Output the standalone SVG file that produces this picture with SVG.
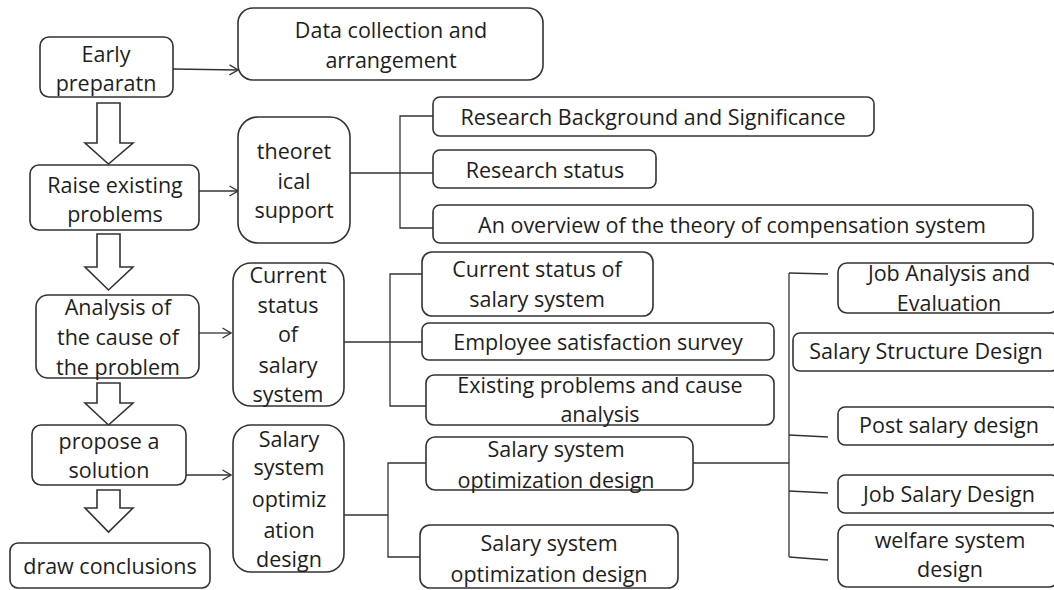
<svg xmlns="http://www.w3.org/2000/svg" width="1054" height="590" viewBox="0 0 1054 590">
  <defs>
    <style>
      .box { fill: #ffffff; stroke: #333333; stroke-width: 1.6; }
      .blk { fill: #ffffff; stroke: #333333; stroke-width: 1.6; stroke-linejoin: miter; }
      .ln { fill: none; stroke: #333333; stroke-width: 1.3; }
      text { font-family: "Open Sans", "Noto Sans", "Liberation Sans", sans-serif; font-size: 21.5px; fill: #1e1e1e; text-anchor: middle; }
    </style>
    <marker id="chev" viewBox="0 0 10 12" refX="9.5" refY="6" markerWidth="10" markerHeight="12" markerUnits="userSpaceOnUse" orient="auto">
      <polyline points="1,1 9.5,6 1,11" fill="none" stroke="#333333" stroke-width="1.3"/>
    </marker>
  </defs>
  <rect width="1054" height="590" fill="#ffffff"/>

  <!-- connectors -->
  <g id="connectors">
    <!-- main flow block arrows -->
    <polygon class="blk" points="97,103 120,103 120,143 133,143 108.5,164 85,143 97,143"/>
    <polygon class="blk" points="97,234 120,234 120,267 133,267 108.5,290 85,267 97,267"/>
    <polygon class="blk" points="97,383 120,383 120,403 133,403 108.5,425 85,403 97,403"/>
    <polygon class="blk" points="97,490 120,490 120,508 133,508 108.5,532 85,508 97,508"/>
    <!-- side arrows -->
    <line class="ln" x1="173" y1="69" x2="238" y2="70" marker-end="url(#chev)"/>
    <line class="ln" x1="199" y1="191" x2="238" y2="191" marker-end="url(#chev)"/>
    <line class="ln" x1="199" y1="333" x2="231" y2="333" marker-end="url(#chev)"/>
    <line class="ln" x1="186" y1="475" x2="231" y2="475" marker-end="url(#chev)"/>
    <!-- theoretical support bracket -->
    <line class="ln" x1="350" y1="173" x2="433" y2="173"/>
    <polyline class="ln" points="433,116 400,116 400,228 433,228"/>
    <!-- current status bracket -->
    <line class="ln" x1="344" y1="342" x2="422" y2="342"/>
    <polyline class="ln" points="422,274 390,274 390,406 426,406"/>
    <!-- optimization bracket -->
    <line class="ln" x1="344" y1="515" x2="388" y2="515"/>
    <polyline class="ln" points="426,463 388,463 388,557 420,557"/>
    <!-- design branch bracket -->
    <line class="ln" x1="693" y1="463" x2="789" y2="463"/>
    <line class="ln" x1="789" y1="273" x2="789" y2="557"/>
    <line class="ln" x1="789" y1="273" x2="828" y2="274"/>
    <line class="ln" x1="789" y1="435" x2="828" y2="437"/>
    <line class="ln" x1="789" y1="491" x2="828" y2="493"/>
    <line class="ln" x1="789" y1="557" x2="828" y2="560"/>
  </g>

  <!-- main flow -->
  <g id="early-preparation">
    <rect class="box" x="40" y="37" width="133" height="60" rx="9"/>
    <text x="106" y="62">Early</text>
    <text x="106" y="91">preparatn</text>
  </g>
  <g id="raise-problems">
    <rect class="box" x="30" y="165" width="169" height="65" rx="9"/>
    <text x="115" y="193">Raise existing</text>
    <text x="115" y="222">problems</text>
  </g>
  <g id="analysis-cause">
    <rect class="box" x="36" y="295" width="163" height="83" rx="12"/>
    <text x="118" y="315">Analysis of</text>
    <text x="118" y="345">the cause of</text>
    <text x="118" y="375">the problem</text>
  </g>
  <g id="propose-solution">
    <rect class="box" x="32" y="425" width="154" height="60" rx="9"/>
    <text x="109" y="449">propose a</text>
    <text x="109" y="478">solution</text>
  </g>
  <g id="draw-conclusions">
    <rect class="box" x="10" y="543" width="200" height="45" rx="8"/>
    <text x="110" y="574">draw conclusions</text>
  </g>

  <!-- second column -->
  <g id="data-collection">
    <rect class="box" x="238" y="8" width="305" height="72" rx="15"/>
    <text x="391" y="38">Data collection and</text>
    <text x="391" y="68">arrangement</text>
  </g>
  <g id="theoretical-support">
    <rect class="box" x="238" y="117" width="112" height="126" rx="20"/>
    <text x="294" y="159">theoret</text>
    <text x="294" y="189">ical</text>
    <text x="294" y="218">support</text>
  </g>
  <g id="current-status">
    <rect class="box" x="233" y="263" width="111" height="143" rx="18"/>
    <text x="288" y="283">Current</text>
    <text x="288" y="313">status</text>
    <text x="288" y="342">of</text>
    <text x="288" y="373">salary</text>
    <text x="288" y="402">system</text>
  </g>
  <g id="optimization-design">
    <rect class="box" x="233" y="425" width="111" height="147" rx="18"/>
    <text x="289" y="447">Salary</text>
    <text x="289" y="475">system</text>
    <text x="289" y="507">optimiz</text>
    <text x="289" y="538">ation</text>
    <text x="289" y="567">design</text>
  </g>

  <!-- theory branches -->
  <g id="research-background">
    <rect class="box" x="433" y="97" width="441" height="39" rx="7"/>
    <text x="653" y="125">Research Background and Significance</text>
  </g>
  <g id="research-status">
    <rect class="box" x="433" y="150" width="223" height="38" rx="7"/>
    <text x="545" y="178">Research status</text>
  </g>
  <g id="theory-overview">
    <rect class="box" x="433" y="205" width="600" height="38" rx="7"/>
    <text x="732" y="233">An overview of the theory of compensation system</text>
  </g>

  <!-- current status branches -->
  <g id="current-salary-system">
    <rect class="box" x="422" y="252" width="231" height="64" rx="10"/>
    <text x="537" y="277">Current status of</text>
    <text x="537" y="307">salary system</text>
  </g>
  <g id="satisfaction-survey">
    <rect class="box" x="422" y="323" width="352" height="37" rx="7"/>
    <text x="598" y="350">Employee satisfaction survey</text>
  </g>
  <g id="problems-cause">
    <rect class="box" x="426" y="375" width="348" height="50" rx="8"/>
    <text x="600" y="393">Existing problems and cause</text>
    <text x="600" y="422">analysis</text>
  </g>

  <!-- optimization branches -->
  <g id="optimization-a">
    <rect class="box" x="426" y="437" width="267" height="53" rx="9"/>
    <text x="556" y="457">Salary system</text>
    <text x="556" y="488">optimization design</text>
  </g>
  <g id="optimization-b">
    <rect class="box" x="420" y="525" width="258" height="63" rx="10"/>
    <text x="549" y="551">Salary system</text>
    <text x="549" y="582">optimization design</text>
  </g>

  <!-- design branches -->
  <g id="job-analysis">
    <rect class="box" x="838" y="263" width="220" height="50" rx="9"/>
    <text x="949" y="281">Job Analysis and</text>
    <text x="949" y="311">Evaluation</text>
  </g>
  <g id="structure-design">
    <rect class="box" x="793" y="333" width="265" height="38" rx="7"/>
    <text x="926" y="359">Salary Structure Design</text>
  </g>
  <g id="post-salary">
    <rect class="box" x="838" y="407" width="220" height="38" rx="7"/>
    <text x="949" y="433">Post salary design</text>
  </g>
  <g id="job-salary">
    <rect class="box" x="838" y="475" width="220" height="38" rx="7"/>
    <text x="949" y="502">Job Salary Design</text>
  </g>
  <g id="welfare-system">
    <rect class="box" x="838" y="525" width="220" height="62" rx="9"/>
    <text x="950" y="548">welfare system</text>
    <text x="950" y="577">design</text>
  </g>
</svg>
